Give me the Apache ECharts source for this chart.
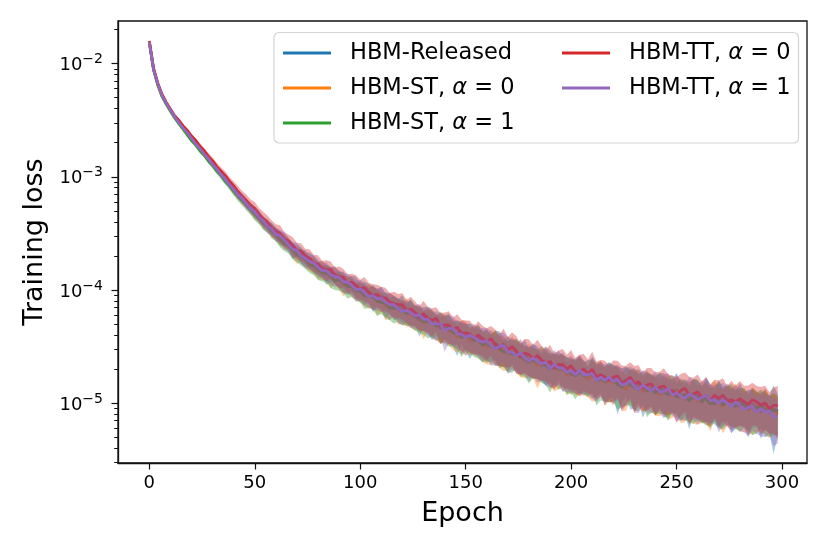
<!DOCTYPE html>
<html><head><meta charset="utf-8">
<script src="https://cdn.jsdelivr.net/npm/echarts@6/dist/echarts.min.js"></script>
<style>html,body{margin:0;padding:0;background:#fff}#c{width:830px;height:554px}</style>
</head><body><div id="c"></div>
<script>
// Epochs sampled every 2 epochs (0..298)
const epochs = [];
for (let e = 0; e <= 298; e += 2) epochs.push(e);

// Mean training loss, stored as log10(loss)
const logLossReleased = [
-1.81,-2.05,-2.18,-2.28,-2.35,-2.41,-2.47,-2.52,-2.57,-2.61,
-2.66,-2.70,-2.76,-2.79,-2.84,-2.89,-2.93,-2.97,-3.03,-3.06,
-3.11,-3.16,-3.19,-3.24,-3.27,-3.32,-3.34,-3.40,-3.44,-3.46,
-3.50,-3.54,-3.55,-3.60,-3.65,-3.65,-3.69,-3.73,-3.73,-3.77,
-3.81,-3.81,-3.86,-3.86,-3.86,-3.91,-3.92,-3.96,-3.95,-3.97,
-4.02,-4.02,-4.02,-4.07,-4.07,-4.06,-4.13,-4.11,-4.15,-4.16,
-4.15,-4.21,-4.19,-4.22,-4.27,-4.24,-4.25,-4.29,-4.30,-4.34,
-4.32,-4.32,-4.37,-4.40,-4.37,-4.40,-4.45,-4.42,-4.42,-4.47,
-4.47,-4.50,-4.47,-4.50,-4.53,-4.57,-4.53,-4.56,-4.60,-4.56,
-4.62,-4.60,-4.63,-4.67,-4.64,-4.65,-4.70,-4.65,-4.71,-4.71,
-4.75,-4.72,-4.72,-4.75,-4.79,-4.74,-4.77,-4.75,-4.81,-4.78,
-4.78,-4.84,-4.82,-4.79,-4.84,-4.86,-4.82,-4.90,-4.86,-4.87,
-4.90,-4.86,-4.89,-4.93,-4.91,-4.88,-4.95,-4.92,-4.98,-4.92,
-4.94,-4.99,-4.93,-4.97,-5.01,-4.96,-5.00,-4.96,-5.02,-5.03,
-4.97,-5.03,-5.05,-5.01,-5.03,-5.08,-5.02,-5.07,-5.05,-5.07];
const logLossST0 = [
-1.81,-2.05,-2.18,-2.28,-2.35,-2.41,-2.47,-2.52,-2.57,-2.62,
-2.67,-2.71,-2.75,-2.80,-2.85,-2.88,-2.94,-2.98,-3.02,-3.07,
-3.12,-3.15,-3.21,-3.23,-3.28,-3.33,-3.35,-3.41,-3.42,-3.48,
-3.50,-3.55,-3.57,-3.59,-3.65,-3.69,-3.69,-3.73,-3.77,-3.77,
-3.83,-3.82,-3.85,-3.88,-3.87,-3.91,-3.95,-3.94,-3.97,-4.01,
-4.00,-4.05,-4.05,-4.05,-4.09,-4.09,-4.15,-4.13,-4.13,-4.18,
-4.19,-4.18,-4.23,-4.23,-4.24,-4.29,-4.26,-4.29,-4.32,-4.32,
-4.32,-4.37,-4.37,-4.42,-4.38,-4.40,-4.45,-4.41,-4.46,-4.47,
-4.51,-4.48,-4.49,-4.53,-4.53,-4.57,-4.53,-4.58,-4.58,-4.63,
-4.60,-4.63,-4.67,-4.64,-4.63,-4.70,-4.69,-4.71,-4.69,-4.76,
-4.72,-4.76,-4.72,-4.75,-4.79,-4.76,-4.79,-4.75,-4.82,-4.80,
-4.82,-4.79,-4.85,-4.88,-4.82,-4.85,-4.85,-4.90,-4.85,-4.89,
-4.89,-4.93,-4.89,-4.90,-4.94,-4.89,-4.95,-4.97,-4.93,-4.95,
-4.99,-4.95,-4.97,-5.00,-4.94,-5.00,-5.03,-4.99,-5.01,-4.98,
-5.04,-5.02,-5.07,-5.02,-5.04,-5.06,-5.03,-5.09,-5.06,-5.10];
const logLossST1 = [
-1.81,-2.05,-2.19,-2.29,-2.36,-2.42,-2.48,-2.53,-2.58,-2.63,
-2.68,-2.72,-2.77,-2.81,-2.86,-2.90,-2.95,-2.99,-3.04,-3.08,
-3.13,-3.17,-3.21,-3.25,-3.29,-3.33,-3.37,-3.41,-3.44,-3.48,
-3.51,-3.55,-3.59,-3.61,-3.65,-3.69,-3.71,-3.73,-3.78,-3.79,
-3.82,-3.85,-3.85,-3.88,-3.92,-3.91,-3.94,-3.97,-3.97,-4.01,
-4.01,-4.05,-4.06,-4.06,-4.10,-4.11,-4.12,-4.16,-4.16,-4.17,
-4.19,-4.20,-4.19,-4.24,-4.24,-4.28,-4.28,-4.28,-4.32,-4.31,
-4.34,-4.34,-4.38,-4.38,-4.42,-4.41,-4.41,-4.45,-4.44,-4.49,
-4.47,-4.50,-4.49,-4.52,-4.55,-4.54,-4.57,-4.55,-4.59,-4.61,
-4.64,-4.62,-4.64,-4.63,-4.67,-4.70,-4.68,-4.70,-4.69,-4.73,
-4.73,-4.76,-4.73,-4.76,-4.75,-4.74,-4.80,-4.79,-4.81,-4.78,
-4.80,-4.83,-4.86,-4.82,-4.84,-4.84,-4.88,-4.84,-4.89,-4.88,
-4.91,-4.88,-4.91,-4.92,-4.89,-4.95,-4.93,-4.94,-4.98,-4.94,
-4.94,-4.98,-4.96,-5.01,-4.98,-4.97,-5.02,-4.99,-4.98,-5.02,
-5.02,-5.01,-5.05,-5.03,-5.05,-5.02,-5.06,-5.08,-5.06,-5.08];
const logLossTT0 = [
-1.80,-2.04,-2.17,-2.27,-2.34,-2.40,-2.46,-2.50,-2.55,-2.59,
-2.64,-2.68,-2.73,-2.77,-2.82,-2.86,-2.91,-2.95,-2.99,-3.04,
-3.08,-3.13,-3.17,-3.21,-3.25,-3.28,-3.33,-3.37,-3.40,-3.45,
-3.48,-3.50,-3.55,-3.57,-3.61,-3.65,-3.66,-3.70,-3.72,-3.76,
-3.77,-3.81,-3.82,-3.82,-3.87,-3.88,-3.89,-3.94,-3.93,-3.96,
-3.99,-3.98,-4.02,-4.05,-4.04,-4.07,-4.07,-4.11,-4.12,-4.13,
-4.13,-4.18,-4.17,-4.20,-4.24,-4.21,-4.25,-4.27,-4.25,-4.32,
-4.31,-4.31,-4.35,-4.33,-4.39,-4.38,-4.39,-4.43,-4.40,-4.43,
-4.46,-4.43,-4.48,-4.51,-4.48,-4.53,-4.50,-4.54,-4.59,-4.56,
-4.57,-4.61,-4.58,-4.62,-4.65,-4.63,-4.69,-4.66,-4.66,-4.70,
-4.67,-4.73,-4.72,-4.70,-4.74,-4.70,-4.77,-4.75,-4.77,-4.80,
-4.77,-4.76,-4.82,-4.81,-4.77,-4.83,-4.81,-4.87,-4.84,-4.83,
-4.88,-4.86,-4.85,-4.89,-4.89,-4.93,-4.89,-4.87,-4.93,-4.92,
-4.90,-4.95,-4.93,-4.98,-4.93,-4.96,-4.93,-4.99,-4.97,-4.99,
-4.96,-4.99,-5.01,-4.97,-4.99,-5.02,-5.00,-5.05,-5.02,-5.02];
const logLossTT1 = [
-1.81,-2.05,-2.18,-2.28,-2.35,-2.41,-2.47,-2.52,-2.57,-2.61,
-2.66,-2.71,-2.75,-2.80,-2.84,-2.89,-2.93,-2.98,-3.02,-3.07,
-3.11,-3.16,-3.19,-3.24,-3.28,-3.31,-3.36,-3.39,-3.44,-3.46,
-3.51,-3.52,-3.56,-3.60,-3.64,-3.65,-3.70,-3.72,-3.75,-3.76,
-3.80,-3.83,-3.83,-3.87,-3.88,-3.89,-3.93,-3.93,-3.96,-4.00,
-3.99,-4.02,-4.06,-4.05,-4.08,-4.07,-4.11,-4.13,-4.13,-4.17,
-4.19,-4.18,-4.20,-4.23,-4.22,-4.26,-4.26,-4.30,-4.30,-4.30,
-4.36,-4.34,-4.34,-4.39,-4.39,-4.42,-4.40,-4.42,-4.45,-4.46,
-4.45,-4.49,-4.52,-4.50,-4.49,-4.55,-4.55,-4.58,-4.56,-4.60,
-4.63,-4.60,-4.63,-4.65,-4.64,-4.70,-4.66,-4.69,-4.69,-4.73,
-4.71,-4.75,-4.71,-4.75,-4.75,-4.74,-4.80,-4.77,-4.80,-4.77,
-4.81,-4.79,-4.84,-4.83,-4.80,-4.85,-4.88,-4.84,-4.87,-4.89,
-4.86,-4.90,-4.90,-4.87,-4.93,-4.91,-4.94,-4.96,-4.92,-4.94,
-4.97,-4.95,-4.93,-4.98,-4.97,-5.00,-4.97,-5.00,-5.03,-4.99,
-5.02,-5.06,-5.04,-5.03,-5.08,-5.05,-5.08,-5.07,-5.12,-5.12];

// Standard deviation of the loss, in percent of the mean (shaded band)
const stdReleased = [
1,1,2,2,2,2,3,3,3,3, 4,4,4,5,5,5,6,6,7,7, 8,9,8,10,9,11,10,12,11,13,
12,15,13,14,16,12,17,14,15,18, 14,17,20,15,18,16,21,17,19,22, 18,23,19,25,20,22,26,19,24,21,
27,22,25,20,28,23,26,30,22,27, 24,29,26,35,23,28,31,25,30,27, 33,26,29,36,28,31,25,34,29,32,
28,35,30,27,38,31,33,29,36,30, 34,30,37,32,29,40,33,31,38,35, 32,45,34,30,39,36,33,41,35,31,
38,34,42,36,33,40,37,35,44,36, 39,35,42,37,34,45,38,36,43,37, 40,36,44,38,35,42,39,37,60,41];
const stdST0 = [
1,1,2,2,2,2,3,3,3,3, 4,4,5,5,5,6,6,6,7,7, 9,8,10,9,11,10,12,11,13,12,
14,12,16,13,15,17,13,16,14,18, 16,19,15,21,17,18,22,16,20,18, 22,19,24,20,26,21,23,27,20,25,
23,28,21,26,24,29,22,27,25,30, 28,24,31,26,29,33,25,30,27,32, 29,34,27,31,35,28,32,30,36,29,
33,30,37,31,34,29,38,32,35,31, 36,32,39,34,31,41,35,33,38,34, 37,33,40,35,32,42,36,34,39,35,
40,35,38,43,36,34,41,37,35,42, 37,41,35,44,38,36,42,39,35,43, 38,42,36,45,39,37,43,40,38,41];
const stdST1 = [
1,1,2,2,2,2,3,3,3,3, 4,4,5,5,5,6,6,7,7,8, 8,10,9,11,10,12,11,13,12,14,
13,16,14,15,17,14,16,18,15,17, 19,16,18,21,17,20,18,22,19,17, 21,24,20,23,26,21,25,22,27,23,
25,22,28,24,27,23,29,26,24,30, 27,31,25,29,33,27,30,28,32,29, 31,28,34,30,27,35,31,29,33,30,
35,31,29,36,32,38,30,34,31,37, 33,38,34,31,36,32,40,35,33,39, 35,41,33,37,34,40,36,33,42,37,
36,39,35,42,37,34,40,38,36,43, 39,36,42,38,35,44,39,37,41,38, 42,38,36,44,40,37,42,39,41,38];
const stdTT0 = [
1,1,2,2,2,3,3,3,4,4, 5,5,6,6,7,7,8,8,9,9, 10,12,11,13,12,14,13,15,14,16,
15,18,16,14,19,16,18,15,20,17, 19,16,21,18,17,22,19,20,18,23, 20,24,21,26,22,25,23,21,27,24,
26,23,29,25,24,30,26,28,25,31, 28,32,27,30,34,29,31,28,33,30, 32,29,35,31,37,30,33,36,31,34,
36,32,38,34,31,40,35,33,37,34, 38,34,40,36,33,42,37,35,39,36, 40,36,42,38,35,44,39,37,41,38,
41,37,44,39,36,43,40,38,45,39, 42,38,45,40,37,44,41,39,46,40, 43,39,46,41,38,45,42,40,44,48];
const stdTT1 = [
1,1,2,2,2,2,3,3,3,3, 4,4,4,5,5,6,6,6,7,7, 8,9,10,9,11,10,12,11,13,12,
14,13,16,14,15,17,14,18,15,16, 18,15,19,17,20,16,21,18,19,22, 20,23,19,25,21,24,22,27,20,25,
24,21,27,23,26,22,28,25,30,24, 35,27,30,25,29,32,26,30,28,33, 30,34,28,32,29,36,31,28,34,30,
34,31,36,29,38,32,35,30,37,33, 35,32,38,34,31,40,36,33,38,35, 37,34,41,36,33,42,38,35,40,37,
39,35,42,37,34,44,39,36,41,38, 40,36,43,38,35,45,41,37,42,39, 41,37,44,39,36,43,40,38,45,42];

const seriesNames = ['HBM-Released', 'HBM-ST, α = 0', 'HBM-ST, α = 1', 'HBM-TT, α = 0', 'HBM-TT, α = 1'];
const seriesColors = ['#1f77b4', '#ff7f0e', '#2ca02c', '#d62728', '#9467bd'];
const seriesMeans = [logLossReleased, logLossST0, logLossST1, logLossTT0, logLossTT1];
const seriesStds = [stdReleased, stdST0, stdST1, stdTT0, stdTT1];

const xTicks = [0, 50, 100, 150, 200, 250, 300];
const yDecades = [-5, -4, -3, -2];   // log10 of 1e-5 .. 1e-2
const xRange = [-14.85, 311.85];
const yRange = [-5.53, -1.623];      // log10 of loss

const FONT = 'DejaVu Sans';
const yMinor = [];
for (let d = -6; d <= -2; d++) for (let k = 2; k <= 9; k++) {
  const v = d + Math.log10(k);
  if (v > yRange[0] && v < yRange[1]) yMinor.push(v);
}

const series = [];
seriesNames.forEach((name, i) => {
  const m = seriesMeans[i], s = seriesStds[i];
  const upper = m.map((v, j) => v + Math.log10(1 + s[j] / 100));
  const lower = m.map((v, j) => v + Math.log10(1 - s[j] / 100));
  series.push({
    type: 'custom', name: 'band' + i, xAxisIndex: 0, yAxisIndex: 0,
    z: 2 + 2 * i, silent: true, clip: true,
    data: [[epochs[0], m[0]]], encode: { x: 0, y: 1 },
    renderItem: (params, api) => {
      if (params.dataIndex !== 0) return null;
      const pts = [];
      for (let j = 0; j < epochs.length; j++) pts.push(api.coord([epochs[j], upper[j]]));
      for (let j = epochs.length - 1; j >= 0; j--) pts.push(api.coord([epochs[j], lower[j]]));
      return { type: 'polygon', shape: { points: pts }, style: { fill: seriesColors[i], opacity: 0.38 } };
    }
  });
  series.push({
    type: 'line', name, xAxisIndex: 0, yAxisIndex: 0, z: 3 + 2 * i,
    data: epochs.map((e, j) => [e, m[j]]),
    symbol: 'none', showSymbol: false, clip: true,
    lineStyle: { width: 2.8, color: seriesColors[i] },
    itemStyle: { color: seriesColors[i] }
  });
});

const legendIcon = 'path://M0,0 L48,0 L48,3 L0,3 Z';
const legendCommon = {
  orient: 'vertical', top: 32.5, height: 115,
  itemGap: 12, itemWidth: 48, itemHeight: 24, icon: legendIcon,
  formatter: n => n.replace('α', '{i|α}'),
  textStyle: {
    fontSize: 22.5, fontFamily: FONT, color: '#000', padding: [0, 0, 0, 14],
    rich: { i: { fontStyle: 'italic', fontSize: 22.5, fontFamily: FONT, color: '#000' } }
  }
};

const chart = echarts.init(document.getElementById('c'), null, { renderer: 'canvas' });
chart.setOption({
  animation: false,
  backgroundColor: '#fff',
  textStyle: { fontFamily: FONT },
  grid: { left: 118, right: 23, top: 21, bottom: 91, show: true, borderColor: '#111', borderWidth: 1.3, backgroundColor: 'transparent' },
  legend: [
    Object.assign({}, legendCommon, {
      left: 274, padding: [9, 284, 8.5, 9], z: 20,
      borderColor: '#d4d4d4', borderWidth: 1.2, borderRadius: 5, backgroundColor: 'rgba(255,255,255,0.85)',
      data: seriesNames.slice(0, 3)
    }),
    Object.assign({}, legendCommon, {
      left: 562, padding: [9, 0, 8.5, 0], z: 21,
      borderWidth: 0, backgroundColor: 'transparent',
      data: seriesNames.slice(3)
    })
  ],
  xAxis: {
    type: 'value', min: xRange[0], max: xRange[1],
    name: 'Epoch', nameLocation: 'middle', nameGap: 37,
    nameTextStyle: { fontSize: 27, fontFamily: FONT, color: '#000' },
    axisLine: { show: true, onZero: false, lineStyle: { color: '#111', width: 1.3 } },
    axisTick: { show: true, customValues: xTicks, length: 6.5, lineStyle: { color: '#111', width: 1.2 } },
    axisLabel: { customValues: xTicks, fontSize: 18, fontFamily: FONT, color: '#000', margin: 11 },
    splitLine: { show: false }
  },
  yAxis: [{
    type: 'value', min: yRange[0], max: yRange[1],
    name: 'Training loss', nameLocation: 'middle', nameGap: 62,
    nameTextStyle: { fontSize: 27, fontFamily: FONT, color: '#000' },
    axisLine: { show: true, onZero: false, lineStyle: { color: '#111', width: 1.3 } },
    axisTick: { show: true, customValues: yDecades, length: 6.5, lineStyle: { color: '#111', width: 1.2 } },
    axisLabel: {
      customValues: yDecades, margin: 15, color: '#000', fontSize: 18, fontFamily: FONT,
      formatter: v => '{b|10}{s|−' + Math.round(-v) + '}',
      rich: {
        b: { fontSize: 18, fontFamily: FONT, color: '#000', verticalAlign: 'bottom', lineHeight: 22 },
        s: { fontSize: 14, fontFamily: FONT, color: '#000', verticalAlign: 'top', lineHeight: 17 }
      }
    },
    splitLine: { show: false }
  }, {
    type: 'value', min: yRange[0], max: yRange[1], position: 'left',
    axisLine: { show: false, onZero: false },
    axisTick: { show: true, customValues: yMinor, length: 3.8, lineStyle: { color: '#111', width: 1 } },
    axisLabel: { show: false },
    splitLine: { show: false }
  }],
  series
});
</script></body></html>
